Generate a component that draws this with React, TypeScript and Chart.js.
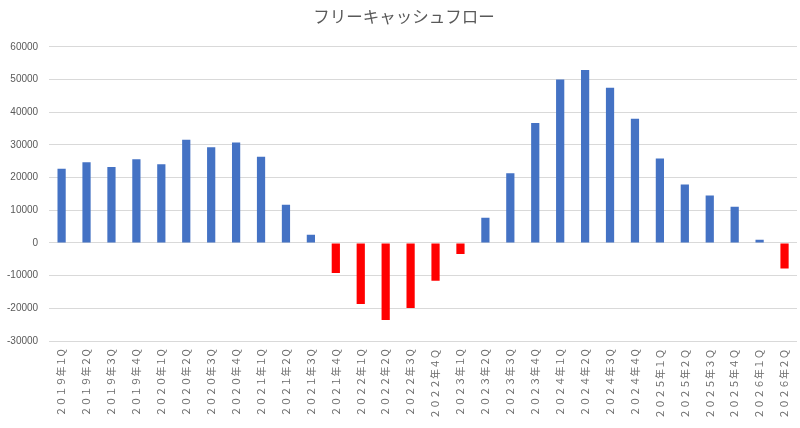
import { useEffect, useRef } from "react";
import Chart from "chart.js/auto";

// 四半期ラベル（元のExcelに合わせて全角数字）
const quarters = [
  "２０１９年１Q", "２０１９年２Q", "２０１９年３Q", "２０１９年４Q",
  "２０２０年１Q", "２０２０年２Q", "２０２０年３Q", "２０２０年４Q",
  "２０２１年１Q", "２０２１年２Q", "２０２１年３Q", "２０２１年４Q",
  "２０２２年１Q", "２０２２年２Q", "２０２２年３Q", "２０２２年４Ｑ",
  "２０２３年１Q", "２０２３年２Q", "２０２３年３Q", "２０２３年４Q",
  "２０２４年１Q", "２０２４年２Q", "２０２４年３Q", "２０２４年４Q",
  "２０２５年１Ｑ", "２０２５年２Ｑ", "２０２５年３Ｑ", "２０２５年４Ｑ",
  "２０２６年１Ｑ", "２０２６年２Ｑ",
];

const freeCashFlow = [
  22700, 24700, 23200, 25600, 24100, 31600, 29300, 30700, 26400, 11700,
  2500, -9200, -18700, -23600, -19900, -11600, -3400, 7700, 21300, 36700,
  50000, 52900, 47500, 38000, 25800, 17900, 14500, 11100, 1000, -7800,
];

const yMin = -30000;
const yMax = 60000;
const yStep = 10000;

const TITLE = "フリーキャッシュフロー";
const POSITIVE = "#4472C4";
const NEGATIVE = "#FF0000";
const TITLE_FONT = "16.5px 'Noto Sans CJK JP', sans-serif";

// the built-in title only reserves the space; this draws the text a little right of centre, like Excel does
const titleText = {
  id: "titleText",
  afterDraw(chart: Chart) {
    const block = (chart as any).titleBlock;
    if (!block) return;
    const { ctx } = chart;
    ctx.save();
    ctx.font = TITLE_FONT;
    ctx.fillStyle = "#595959";
    ctx.textAlign = "center";
    ctx.textBaseline = "middle";
    ctx.fillText(TITLE, chart.width / 2 + 4, block.top + 7 + 10);
    ctx.restore();
  },
};

function FcfChart() {
  const canvasRef = useRef<HTMLCanvasElement>(null);
  const chartRef = useRef<Chart | null>(null);

  useEffect(() => {
    if (!canvasRef.current) return;
    chartRef.current?.destroy();

    chartRef.current = new Chart(canvasRef.current, {
      type: "bar",
      data: {
        labels: quarters,
        datasets: [
          {
            label: TITLE,
            data: freeCashFlow,
            backgroundColor: freeCashFlow.map((v) => (v < 0 ? NEGATIVE : POSITIVE)),
            barPercentage: 0.33,
            categoryPercentage: 1,
          },
        ],
      },
      options: {
        animation: false,
        responsive: true,
        maintainAspectRatio: false,
        layout: { padding: { left: -4, right: 3, top: 0, bottom: 9 } },
        plugins: {
          legend: { display: false },
          tooltip: { enabled: false },
          title: {
            display: true,
            text: TITLE,
            color: "rgba(0,0,0,0)",
            font: { family: "'Noto Sans CJK JP', sans-serif", size: 16.5, weight: "normal" },
            padding: { top: 7, bottom: 20 },
          },
        },
        scales: {
          x: {
            grid: { display: false },
            border: { display: false },
            ticks: {
              autoSkip: false,
              minRotation: 90,
              maxRotation: 90,
              padding: 0,
              color: "#6b6b6b",
              font: { family: "'Noto Sans CJK JP', sans-serif", size: 10 },
            },
          },
          y: {
            min: yMin,
            max: yMax,
            grid: { color: "#D9D9D9", lineWidth: 1, drawTicks: false },
            border: { display: false },
            ticks: {
              stepSize: yStep,
              padding: 11,
              color: "#595959",
              font: { family: "'Liberation Sans', Arial, sans-serif", size: 10 },
              callback: (v) => String(v),
            },
          },
        },
      },
      plugins: [titleText],
    });

    return () => {
      chartRef.current?.destroy();
      chartRef.current = null;
    };
  }, []);

  return (
    <div style={{ position: "relative", width: 800, height: 428 }}>
      <canvas ref={canvasRef} />
    </div>
  );
}

export default function App() {
  useEffect(() => {
    document.body.style.margin = "0";
    document.body.style.background = "#ffffff";
  }, []);
  return <FcfChart />;
}
